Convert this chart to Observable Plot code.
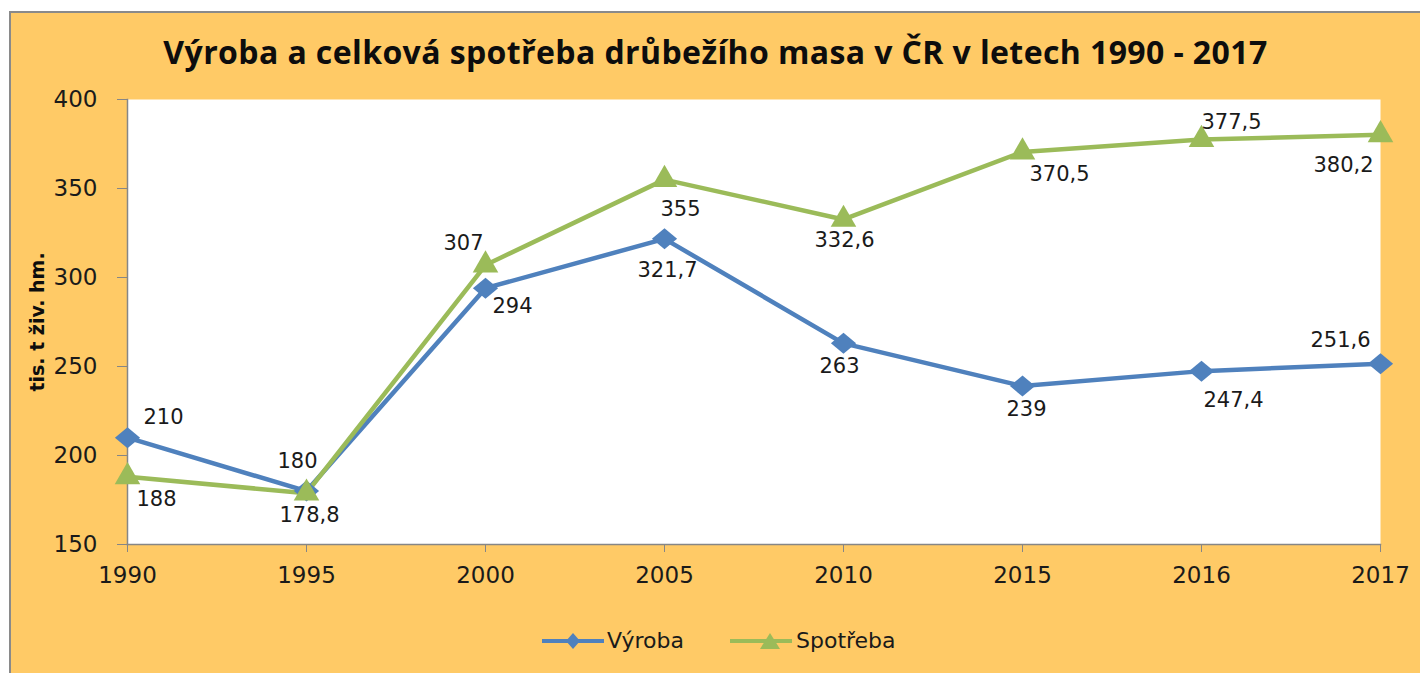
<!DOCTYPE html>
<html>
<head>
<meta charset="utf-8">
<script src="https://cdn.jsdelivr.net/npm/d3@7"></script>
<script src="https://cdn.jsdelivr.net/npm/@observablehq/plot@0.6"></script>
<style>
  body { margin: 0; background: #fff; }
  #card { position: absolute; left: 9px; top: 11px; width: 1411px; height: 662px; background: #FFCA66;
          border-left: 2px solid #8a8a8a; border-top: 2px solid #8a8a8a; box-sizing: border-box; overflow: hidden;
          font-family: "DejaVu Sans", sans-serif; color: #1a1a1a; }
  #title { position: absolute; left: 0; top: 17px; width: 1409px; text-align: center;
           font-family: "Open Sans", sans-serif; font-weight: bold; font-size: 32px; letter-spacing: 0.4px;
           color: #0d0d0d; white-space: nowrap; }
  #chart { position: absolute; left: 0; top: 70px; }
  .leg { position: absolute; top: 616px; }
  .legtxt { position: absolute; top: 615px; font-size: 22px; color: #1a1a1a; line-height: 26px; }
</style>
</head>
<body>
<div id="card">
  <div id="title"></div>
  <div id="chart"></div>
  <svg class="leg" style="left:531px" width="64" height="24">
    <line x1="0" y1="12" x2="62" y2="12" stroke="#4F81BD" stroke-width="4"/>
    <path d="M31,4 L38,12 L31,20 L24,12 Z" fill="#4F81BD"/>
  </svg>
  <div class="legtxt" id="leg1" style="left:596px"></div>
  <svg class="leg" style="left:719px" width="64" height="24">
    <line x1="0" y1="12" x2="62" y2="12" stroke="#9BBB59" stroke-width="4"/>
    <path d="M40,4 L50,20 L30,20 Z" fill="#9BBB59"/>
  </svg>
  <div class="legtxt" id="leg2" style="left:785px"></div>
</div>
<script>
const titleText = "Výroba a celková spotřeba drůbežího masa v ČR v letech 1990 - 2017";
const yLabel = "tis. t živ. hm.";
const years = ["1990", "1995", "2000", "2005", "2010", "2015", "2016", "2017"];
const seriesNames = ["Výroba", "Spotřeba"];
const vyroba = [210, 180, 294, 321.7, 263, 239, 247.4, 251.6];
const spotreba = [188, 178.8, 307, 355, 332.6, 370.5, 377.5, 380.2];
const yTicks = [150, 200, 250, 300, 350, 400];
// label offsets (pixels) relative to each point
const vyrobaLabelDx = [36, -9, 27, 3, -4, 4, 32, -40];
const vyrobaLabelDy = [-20, -30, 18, 31, 23, 23, 29, -23];
const spotrebaLabelDx = [29, 3, -22, 16, 1, 37, 30, -37];
const spotrebaLabelDy = [22, 22, -22, 30, 21, 22, -17, 31];

document.getElementById("title").textContent = titleText;
document.getElementById("leg1").textContent = seriesNames[0];
document.getElementById("leg2").textContent = seriesNames[1];

const colors = ["#4F81BD", "#9BBB59"];
const fmt = v => String(v).replace(".", ",");

const rowsV = years.map((yr, i) => ({year: yr, value: vyroba[i], dx: vyrobaLabelDx[i], dy: vyrobaLabelDy[i]}));
const rowsS = years.map((yr, i) => ({year: yr, value: spotreba[i], dx: spotrebaLabelDx[i], dy: spotrebaLabelDy[i]}));

const wideDiamond = {
  draw(ctx, size) {
    const r = Math.sqrt(size / Math.PI);
    const hw = r * 1.2, hh = r * 1.0;
    ctx.moveTo(0, -hh); ctx.lineTo(hw, 0); ctx.lineTo(0, hh); ctx.lineTo(-hw, 0); ctx.closePath();
  }
};

const labelMarks = (rows) => rows.map(d => Plot.text([d], {
  x: "year", y: "value", text: r => fmt(r.value), dx: d.dx, dy: d.dy,
  fontSize: 21, fill: "#1a1a1a", textAnchor: "middle", lineAnchor: "middle"
}));

const chart = Plot.plot({
  width: 1409,
  height: 512,
  marginLeft: 116,
  marginRight: 40,
  marginTop: 16,
  marginBottom: 51,
  style: {fontFamily: "DejaVu Sans, sans-serif", background: "transparent", overflow: "visible"},
  x: {type: "point", domain: years, padding: 0, label: null},
  y: {domain: [150, 400], label: null},
  marks: [
    Plot.frame({fill: "white", stroke: "none"}),
    Plot.frame({anchor: "left", stroke: "#868686", strokeWidth: 1.5}),
    Plot.frame({anchor: "bottom", stroke: "#868686", strokeWidth: 1.5}),
    Plot.axisY({ticks: yTicks, tickSize: 10, tickFormat: () => "", stroke: "#868686", label: null}),
    Plot.axisY({ticks: yTicks, tickSize: 0, tickPadding: 30, fontSize: 23, fill: "#1a1a1a", label: null}),
    Plot.axisX({tickSize: 8, tickFormat: () => "", stroke: "#868686", label: null}),
    Plot.axisX({tickSize: 0, tickPadding: 22, fontSize: 23, fill: "#1a1a1a", label: null}),
    Plot.text([yLabel], {frameAnchor: "left", text: d => d, rotate: -90, dx: -90,
      fontWeight: "bold", fontSize: 19, fill: "#0d0d0d", textAnchor: "middle", lineAnchor: "middle"}),
    Plot.line(rowsV, {x: "year", y: "value", stroke: colors[0], strokeWidth: 4.5}),
    Plot.line(rowsS, {x: "year", y: "value", stroke: colors[1], strokeWidth: 4.5}),
    Plot.dot(rowsV, {x: "year", y: "value", symbol: wideDiamond, r: 10.5, fill: colors[0], stroke: "none"}),
    Plot.dot(rowsS, {x: "year", y: "value", symbol: "triangle", r: 9.5, fill: colors[1], stroke: "none"}),
    ...labelMarks(rowsV),
    ...labelMarks(rowsS)
  ]
});
document.getElementById("chart").appendChild(chart);
</script>
</body>
</html>
